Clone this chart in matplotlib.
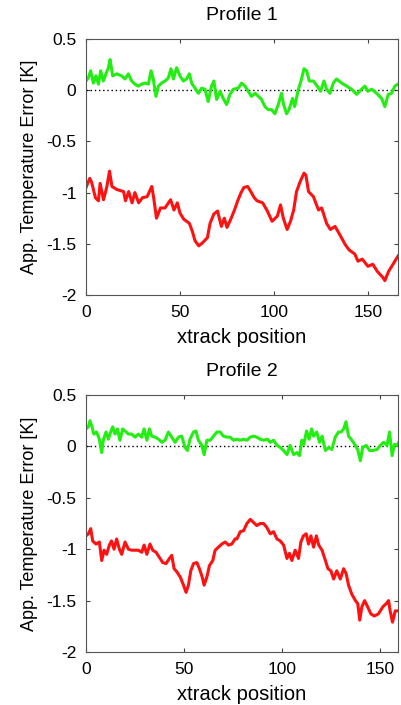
import numpy as np
import matplotlib
matplotlib.use("Agg")
import matplotlib.pyplot as plt

plt.rcParams["font.family"] = ["Liberation Sans", "DejaVu Sans"]

# Profile 1: apparent temperature error along track position
p1_green_x = [0, 1.2, 2.5, 3.9, 5.3, 6.6, 7.8, 9.2, 10.6, 11.9, 12.8, 14.2, 16.3, 19, 20.7,
              22.5, 24.3, 26, 27.8, 29.6, 31.4, 33.2, 34.6, 35.8, 37.2, 38.5, 40.2, 42,
              43.8, 45.2, 46.5, 48.2, 50, 51.8, 53.5, 55, 56.2, 58, 59.8, 61.5, 63.3, 65,
              66.8, 68, 69.5, 71.3, 73, 74.8, 76.6, 78.4, 81, 82.8, 84.6, 86.3, 88, 90,
              91.7, 93.4, 95.2, 97, 98.8, 100.5, 102.3, 104, 105, 106.7, 108, 109.9, 111,
              113, 114.4, 116, 117.4, 118.8, 121, 123, 124.8, 126.6, 128, 129.8, 131.6,
              133.3, 136, 138.7, 141.3, 144, 146.6, 148.4, 150, 152, 154.6, 157.3, 159,
              160.8, 162.6, 164.3, 166]
p1_green_y = [0.09, 0.12, 0.19, 0.07, 0.14, 0.06, 0.19, 0.09, 0.16, 0.22, 0.30, 0.14, 0.16,
              0.14, 0.11, 0.16, 0.09, 0.06, 0.04, 0.06, 0.07, 0.06, 0.19, 0.11, -0.06, 0.04,
              0.07, 0.09, 0.12, 0.21, 0.11, 0.22, 0.14, 0.09, 0.11, 0.16, 0.07, 0.02, -0.03,
              0.02, 0.01, -0.11, 0.04, 0.09, -0.09, -0.01, -0.08, -0.14, -0.04, 0.01, 0.02,
              0.07, 0.04, -0.01, -0.06, -0.03, -0.06, -0.09, -0.16, -0.19, -0.19, -0.23,
              -0.14, -0.03, -0.13, -0.23, -0.19, -0.08, -0.16, 0.01, 0.09, 0.21, 0.19, 0.09,
              0.09, 0.04, -0.01, 0.09, 0.01, -0.03, 0.07, 0.11, 0.07, 0.04, 0.01, -0.04,
              0.01, 0.04, -0.01, 0.01, -0.03, -0.08, -0.16, -0.04, -0.03, 0.04, 0.06]

p1_red_x = [0, 2, 3, 5, 6.6, 7.5, 9.3, 11, 12.5, 13.8, 16.4, 20, 21, 22.7, 24.5, 26, 28,
            30, 32.5, 35, 36, 37.5, 39.6, 42, 45, 46.8, 48.6, 50, 52, 55, 56.6, 58, 60, 62,
            64.6, 66, 68, 70, 72, 73.6, 75, 77, 79, 80.7, 82.5, 84, 86, 87.7, 89.5, 91, 94,
            96.5, 99, 101.8, 103.5, 105, 107, 108.8, 110.5, 112, 114, 116, 117, 118.4, 121,
            123.7, 125.4, 128, 130, 132.5, 135, 138, 140, 143, 144.7, 147, 150, 152.6, 155,
            158, 159, 161, 164, 166]
p1_red_y = [-0.95, -0.86, -0.90, -1.05, -1.08, -0.91, -1.07, -0.95, -0.79, -0.94, -0.97,
            -0.99, -1.08, -0.99, -1.10, -1.00, -1.10, -1.05, -1.04, -0.94, -1.05, -1.25,
            -1.15, -1.15, -1.07, -1.17, -1.10, -1.20, -1.26, -1.30, -1.38, -1.47, -1.52,
            -1.49, -1.44, -1.30, -1.21, -1.18, -1.33, -1.25, -1.34, -1.26, -1.17, -1.08,
            -1.00, -0.95, -0.94, -0.99, -1.05, -1.08, -1.10, -1.18, -1.28, -1.23, -1.12,
            -1.25, -1.36, -1.28, -1.17, -0.99, -0.89, -0.81, -0.83, -0.99, -1.04, -1.17,
            -1.15, -1.30, -1.36, -1.33, -1.41, -1.51, -1.56, -1.60, -1.67, -1.65, -1.72,
            -1.70, -1.77, -1.83, -1.86, -1.77, -1.68, -1.62]

# Profile 2
p2_green_x = [0, 1.2, 2, 2.9, 4, 5.4, 6.8, 8, 8.8, 10.2, 11.4, 12.2, 13.6, 14.8, 16, 17.3,
              18.7, 19.9, 21.6, 23.3, 25, 26.7, 28.4, 29.6, 31, 32.3, 33.5, 35.2, 37, 38.6,
              40.3, 42, 43.7, 45.4, 47.1, 48.8, 50.5, 51.7, 53, 54.8, 56, 57.3, 59, 60.2,
              61.6, 63.3, 65, 66.7, 68.4, 70, 71.8, 73.5, 75.2, 76.9, 78.6, 80.3, 82, 83.7,
              85.4, 87, 88.8, 90.5, 92.5, 93.9, 95.6, 97.3, 99, 100.7, 102.4, 104, 105.8,
              107.5, 108.8, 110, 111, 112.4, 113.7, 115, 116, 117.6, 119, 120.3, 122, 123.7,
              125.3, 127, 128.7, 130, 131.3, 132.5, 133.8, 135.5, 137.3, 138.6, 139.8, 141,
              142.8, 144.5, 146.2, 148.3, 150, 151.7, 153.4, 154.7, 156, 157.2, 158.5, 160]
p2_green_y = [0.17, 0.19, 0.25, 0.20, 0.12, 0.14, 0.07, -0.06, 0.06, 0.14, 0.07, 0.12, 0.19,
              0.12, 0.17, 0.06, 0.17, 0.15, 0.12, 0.12, 0.09, 0.12, 0.09, 0.17, 0.06, 0.17,
              0.10, 0.09, 0.07, 0.04, 0.06, 0.14, 0.09, 0.04, 0.09, 0.10, -0.01, -0.04, 0.07,
              0.14, 0.15, 0.06, 0.01, -0.08, 0.06, 0.06, 0.10, 0.14, 0.14, 0.10, 0.09, 0.09,
              0.06, 0.07, 0.06, 0.07, 0.06, 0.09, 0.10, 0.09, 0.07, 0.06, 0.07, 0.04, 0.06,
              0.01, -0.01, -0.04, -0.08, 0.01, -0.08, -0.06, -0.09, 0.06, 0.02, 0.15, 0.07,
              0.17, 0.10, 0.14, 0.04, 0.10, -0.04, -0.01, -0.03, 0.09, 0.14, 0.14, 0.17, 0.24,
              0.10, 0.06, 0.01, -0.04, -0.14, -0.01, 0.01, -0.04, -0.04, -0.03, 0.01, 0.04,
              0.01, 0.14, -0.09, 0.02, 0.01, 0.06]

p2_red_x = [0, 1.2, 2.4, 3.4, 5.1, 6.8, 8, 9.2, 10.5, 11.9, 13, 14.3, 15.6, 17, 18.2, 19.9,
            21.6, 23.3, 25, 26.7, 28.4, 29.6, 31, 32.6, 34, 35.7, 37.4, 39.1, 40.8, 42.5,
            43.7, 44.9, 46.3, 48, 49.7, 51, 52.2, 53.4, 54.8, 56.5, 57.8, 59.2, 60.2, 61.6,
            62.9, 64.6, 65.8, 67.5, 69.2, 70.9, 72.6, 74.3, 76, 76.9, 78.6, 80.3, 82, 83.7,
            85.4, 87, 88.8, 90.5, 92.2, 93.9, 95.6, 97.3, 99, 100.7, 102.4, 103.7, 104.9,
            106.6, 108.3, 109.5, 110.8, 112.2, 113.4, 114.6, 116, 117.4, 118.6, 120.3, 122,
            123.3, 124.8, 126.2, 127.8, 129.6, 131.3, 132.6, 133.8, 135.5, 137.3, 138.5,
            139.5, 140.6, 142, 143.5, 145.2, 146.9, 149, 151.3, 153, 154.2, 155, 156.2,
            157.6, 159.3, 160.5]
p2_red_y = [-0.87, -0.85, -0.80, -0.92, -0.95, -0.93, -1.11, -1.01, -1.05, -0.96, -0.92,
            -1.00, -0.90, -1.00, -1.05, -0.93, -1.00, -1.01, -1.01, -1.01, -1.03, -0.96,
            -1.05, -0.95, -1.01, -1.03, -1.08, -1.13, -1.14, -1.09, -1.06, -1.19, -1.22,
            -1.27, -1.35, -1.42, -1.35, -1.21, -1.14, -1.13, -1.19, -1.27, -1.35, -1.27,
            -1.16, -1.11, -1.01, -0.98, -0.95, -0.93, -0.96, -0.95, -0.90, -0.90, -0.83,
            -0.82, -0.75, -0.71, -0.74, -0.77, -0.75, -0.75, -0.79, -0.85, -0.83, -0.90,
            -0.92, -0.96, -1.09, -1.04, -1.11, -1.01, -1.09, -0.93, -0.87, -0.85, -0.95,
            -0.87, -0.98, -0.87, -0.96, -1.01, -1.11, -1.19, -1.21, -1.29, -1.21, -1.29,
            -1.19, -1.24, -1.35, -1.44, -1.50, -1.53, -1.69, -1.56, -1.50, -1.56, -1.63,
            -1.65, -1.63, -1.56, -1.53, -1.50, -1.60, -1.71, -1.60, -1.60, -1.58]

profiles = [
    ("Profile 1", p1_green_x, p1_green_y, p1_red_x, p1_red_y, 166),
    ("Profile 2", p2_green_x, p2_green_y, p2_red_x, p2_red_y, 159),
]

fig = plt.figure(figsize=(4.01, 7.05), dpi=100)
rects = [[0.2145, 0.5816, 0.778, 0.363], [0.2145, 0.0752, 0.778, 0.3645]]

for rect, (title, gx, gy, rx, ry, xmax) in zip(rects, profiles):
    ax = fig.add_axes(rect)
    ax.plot([0, xmax], [0, 0], color="black", linestyle=(0, (1, 2)), linewidth=1.0)
    ax.plot(gx, gy, color="#22ee11", linewidth=2.2)
    ax.plot(rx, ry, color="#ff1111", linewidth=2.2)
    ax.set_xlim(0, xmax)
    ax.set_ylim(-2, 0.5)
    ax.set_xticks([0, 50, 100, 150])
    ax.set_yticks([0.5, 0, -0.5, -1, -1.5, -2])
    ax.set_yticklabels(["0.5", "0", "-0.5", "-1", "-1.5", "-2"])
    ax.tick_params(direction="in", top=True, right=True, length=3, labelsize=12.5,
                   color="#444444")
    ax.tick_params(axis="x", pad=7)
    ax.tick_params(axis="y", pad=7)
    for s in ax.spines.values():
        s.set_color("#555555")
    ax.set_title(title, fontsize=14, pad=14)
    ax.set_xlabel("xtrack position", fontsize=14.5, labelpad=6)
    ax.set_ylabel("App. Temperature Error [K]", fontsize=13, labelpad=6)

fig.savefig("out.png", dpi=100)
